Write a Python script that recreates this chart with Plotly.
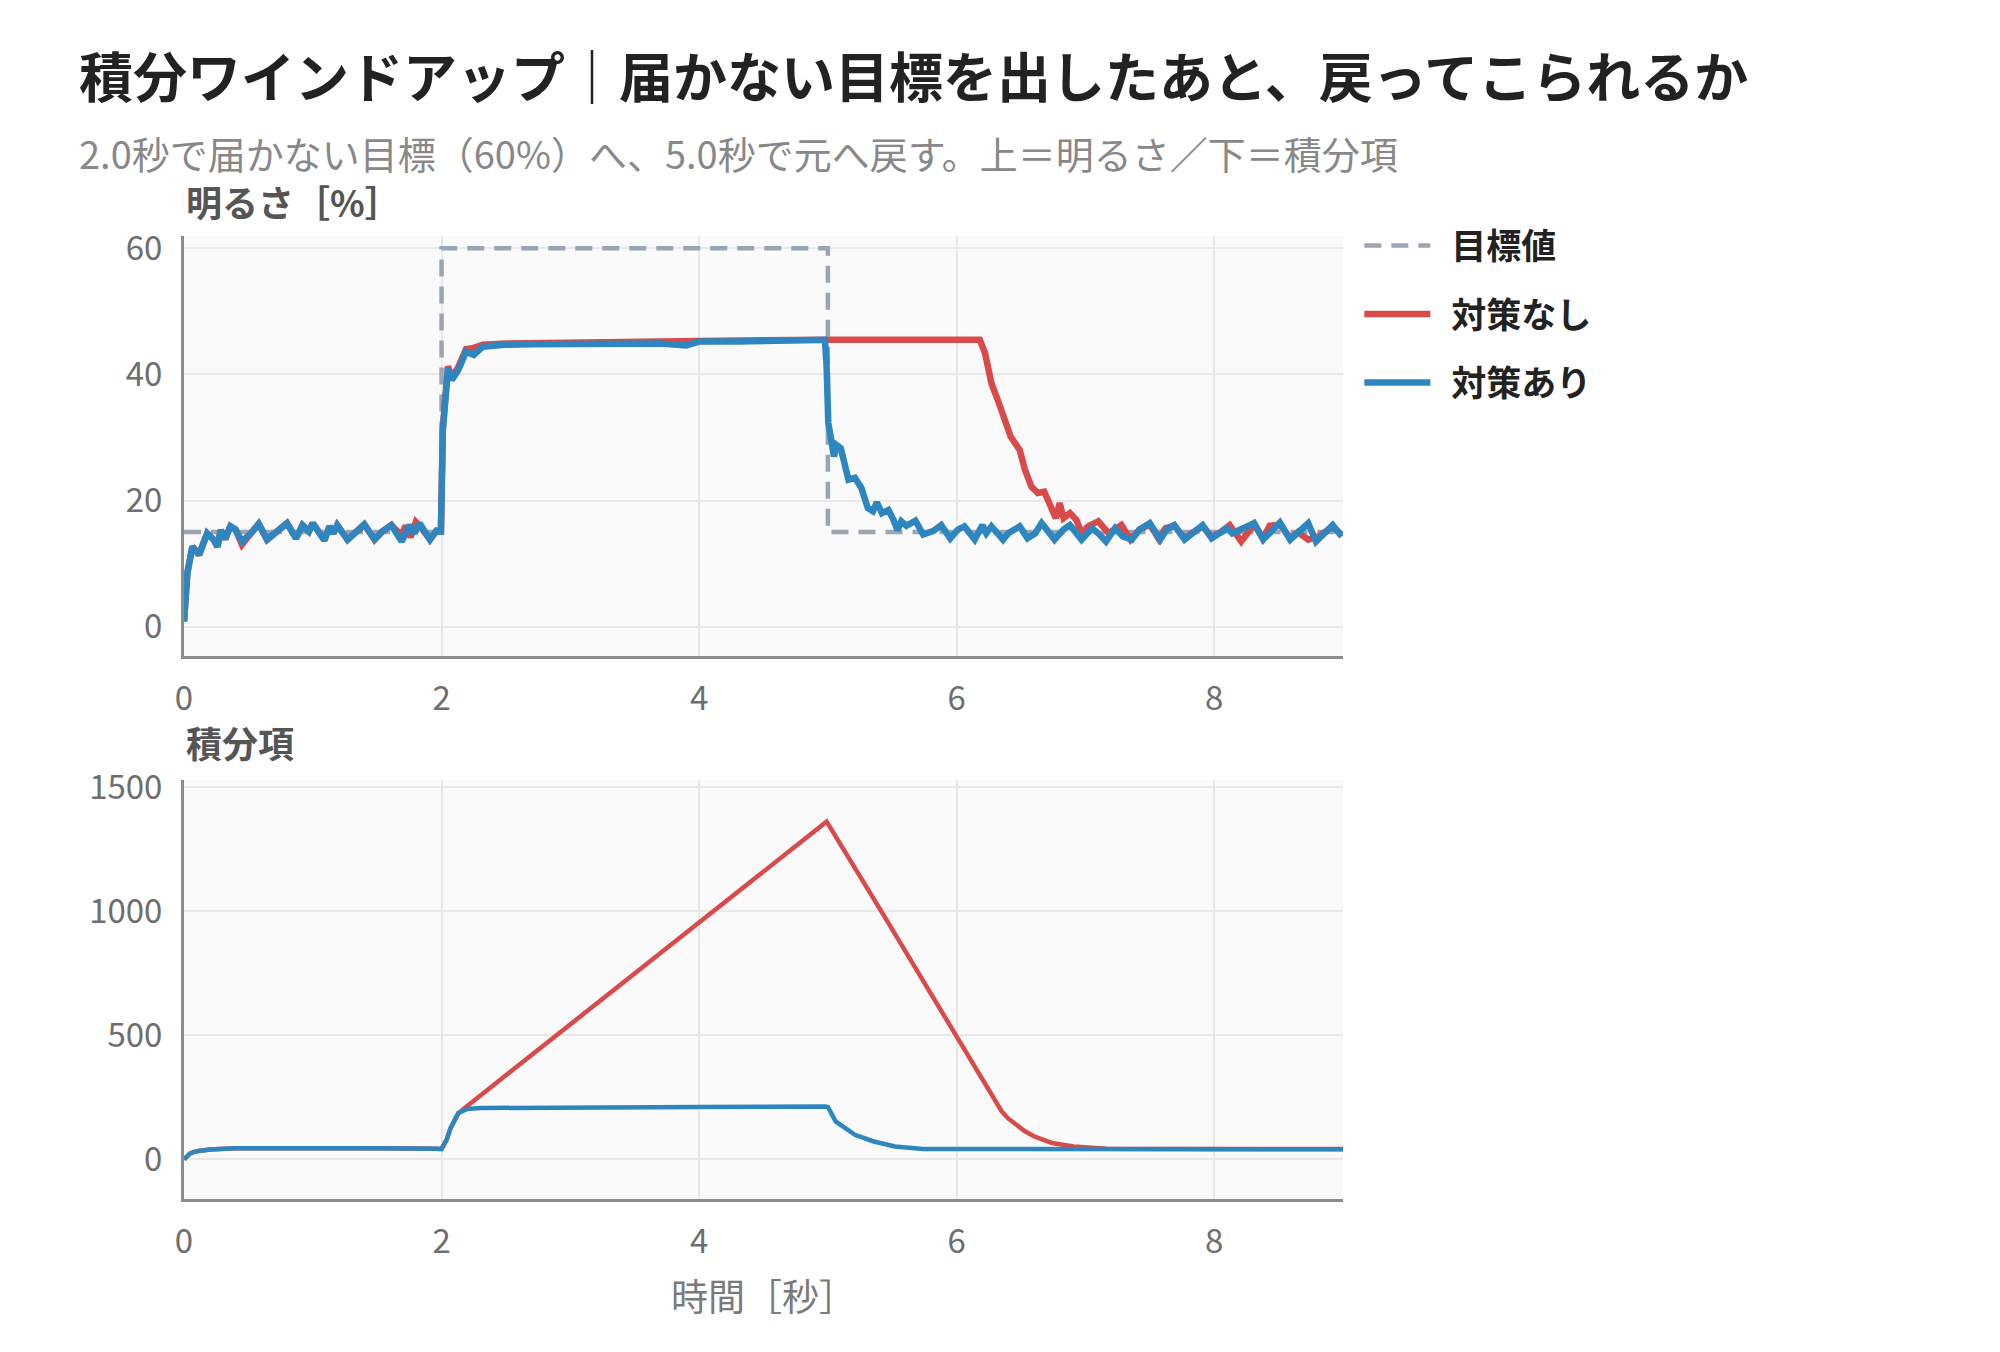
import plotly.graph_objects as go

# 目標値（明るさ％）
t_target = [0, 2, 2, 5, 5, 9]
v_target = [15, 15, 60, 60, 15, 15]

# 明るさ：対策あり
t_blue = [0.00, 0.026, 0.065, 0.117, 0.18, 0.23, 0.26, 0.285, 0.32, 0.36, 0.40, 0.45,
          0.52, 0.58, 0.645, 0.71, 0.80, 0.87, 0.92, 0.97, 1.00, 1.09, 1.13, 1.16,
          1.19, 1.27, 1.33, 1.40, 1.48, 1.54, 1.61, 1.69, 1.75, 1.79, 1.83, 1.91,
          1.96, 1.995, 2.01, 2.05, 2.08, 2.13, 2.19, 2.25, 2.32, 2.49, 2.7, 3.0,
          3.3, 3.5, 3.7, 3.9, 4.0, 4.3, 4.6, 4.977, 4.99, 5.003, 5.03, 5.047,
          5.068, 5.10, 5.16, 5.21, 5.26, 5.31, 5.35, 5.38, 5.42, 5.47, 5.51, 5.54,
          5.57, 5.61, 5.68, 5.74, 5.82, 5.88, 5.95, 6.01, 6.06, 6.14, 6.20, 6.23,
          6.27, 6.36, 6.40, 6.49, 6.55, 6.61, 6.66, 6.70, 6.76, 6.83, 6.88, 6.97,
          7.05, 7.10, 7.16, 7.23, 7.29, 7.36, 7.42, 7.50, 7.58, 7.63, 7.69, 7.77,
          7.84, 7.91, 7.98, 8.04, 8.10, 8.14, 8.21, 8.31, 8.38, 8.43, 8.51, 8.59,
          8.65, 8.73, 8.79, 8.86, 8.92, 8.99]
v_blue = [0.8, 8.5, 12.7, 11.4, 14.8, 13.8, 12.7, 15.3, 13.9, 15.9, 15.4, 13.5,
          14.8, 16.3, 13.8, 14.8, 16.4, 14.0, 16.1, 15.1, 16.4, 13.7, 15.9, 14.8,
          16.1, 13.8, 14.8, 16.2, 13.8, 15.1, 16.1, 13.5, 16.1, 14.8, 16.4, 13.8,
          15.2, 15.1, 31.2, 41.0, 39.1, 40.7, 43.6, 43.1, 44.4, 44.7, 44.8, 44.8,
          44.9, 44.7, 44.9, 44.6, 45.2, 45.2, 45.3, 45.5, 41.3, 32.3, 29.1, 27.0,
          28.8, 28.3, 23.3, 23.6, 22.0, 18.8, 18.3, 19.7, 18.0, 18.5, 16.9, 15.3,
          16.7, 16.0, 16.8, 14.6, 15.2, 16.1, 14.0, 15.4, 15.9, 13.8, 16.1, 14.8,
          15.9, 13.8, 14.8, 15.9, 14.0, 14.8, 16.4, 15.4, 13.8, 15.4, 16.1, 13.8,
          15.6, 14.8, 13.5, 15.6, 14.3, 13.8, 15.4, 16.4, 13.8, 15.4, 16.1, 13.8,
          15.1, 16.1, 14.0, 14.8, 15.6, 14.8, 15.4, 16.4, 13.8, 14.8, 16.5, 13.8,
          14.8, 16.4, 13.5, 14.8, 16.1, 14.3]

# 明るさ：対策なし
t_red = [0.00, 0.026, 0.065, 0.117, 0.18, 0.23, 0.26, 0.285, 0.32, 0.36, 0.40, 0.45,
         0.52, 0.58, 0.645, 0.71, 0.80, 0.87, 0.92, 0.97, 1.00, 1.09, 1.13, 1.16,
         1.19, 1.27, 1.33, 1.40, 1.48, 1.54, 1.61, 1.69, 1.72, 1.76, 1.80, 1.83,
         1.91, 1.96, 1.995, 2.01, 2.05, 2.08, 2.13, 2.19, 2.25, 2.32, 2.5, 3.0,
         4.0, 5.0, 6.18, 6.22, 6.27, 6.32, 6.38, 6.42, 6.49, 6.53, 6.58, 6.63,
         6.68, 6.73, 6.77, 6.80, 6.83, 6.88, 6.93, 6.97, 7.02, 7.10, 7.18, 7.28,
         7.35, 7.42, 7.50, 7.57, 7.62, 7.69, 7.77, 7.84, 7.91, 7.98, 8.05, 8.12,
         8.21, 8.31, 8.38, 8.43, 8.51, 8.59, 8.65, 8.73, 8.80, 8.86, 8.92, 8.99]
v_red = [0.8, 8.5, 12.7, 11.4, 14.8, 13.8, 12.7, 15.3, 13.9, 15.9, 15.4, 13.0,
         14.8, 16.3, 13.8, 14.8, 16.4, 14.0, 16.1, 15.1, 16.4, 13.7, 15.9, 14.8,
         16.1, 13.8, 14.8, 16.2, 13.8, 15.1, 16.1, 14.5, 16.0, 14.2, 16.6, 16.0,
         13.8, 15.2, 15.1, 31.5, 41.3, 39.5, 41.2, 44.0, 44.2, 44.7, 44.9, 45.1,
         45.3, 45.5, 45.5, 43.4, 38.6, 35.9, 32.3, 30.1, 28.0, 24.9, 22.2, 21.2,
         21.4, 18.8, 17.2, 19.6, 17.2, 18.0, 16.9, 14.8, 15.9, 16.7, 14.8, 16.1,
         13.8, 15.4, 16.2, 13.9, 15.6, 16.0, 14.0, 15.0, 15.9, 14.2, 15.0, 16.1,
         13.5, 16.2, 14.0, 16.0, 16.2, 14.0, 15.0, 13.8, 14.2, 15.0, 15.8, 14.6]

# 積分項
t_int_red = [0, 0.05, 0.1, 0.2, 0.4, 1.0, 1.5, 1.95, 2.0, 2.04, 2.07, 2.13, 2.18,
             2.5, 3.0, 4.0, 4.99, 5.44, 6.0, 6.24, 6.30, 6.35, 6.40, 6.46, 6.53,
             6.60, 6.74, 6.91, 7.16, 8.0, 9.0]
v_int_red = [0, 25, 33, 40, 45, 46, 45, 43, 42, 80, 126, 185, 207,
             339, 545, 957, 1362, 979, 496, 281, 234, 193, 165, 140, 113,
             93, 66, 52, 43, 42, 42]
t_int_blue = [0, 0.05, 0.1, 0.2, 0.4, 1.0, 1.5, 1.95, 2.0, 2.04, 2.07, 2.13, 2.2,
              2.3, 3.0, 3.95, 4.0, 4.98, 5.0, 5.06, 5.21, 5.35, 5.52, 5.74, 7.0, 9.0]
v_int_blue = [0, 25, 33, 40, 45, 46, 45, 43, 42, 80, 126, 187, 203,
              207, 207, 208, 211, 213, 211, 153, 99, 73, 52, 42, 41, 41]

RED = "#d94a4a"
BLUE = "#2e86c1"
GRAY = "#9aa5b1"
FONT = "Noto Sans CJK JP"
PAD = "\u00a0\u00a0"  # 凡例の線と文字の間を少し空ける

fig = go.Figure()
fig.add_trace(go.Scatter(x=t_target, y=v_target, mode="lines", name=PAD + "目標値",
                         line=dict(color=GRAY, width=4.5, dash="17px,10px"),
                         legendgroup="a", xaxis="x", yaxis="y"))
fig.add_trace(go.Scatter(x=t_red, y=v_red, mode="lines", name=PAD + "対策なし",
                         line=dict(color=RED, width=6.5), legendgroup="b",
                         xaxis="x", yaxis="y"))
fig.add_trace(go.Scatter(x=t_blue, y=v_blue, mode="lines", name=PAD + "対策あり",
                         line=dict(color=BLUE, width=6.5), legendgroup="c",
                         xaxis="x", yaxis="y"))
fig.add_trace(go.Scatter(x=t_int_red, y=v_int_red, mode="lines", name="対策なし",
                         line=dict(color=RED, width=4.5), legendgroup="b",
                         showlegend=False, xaxis="x2", yaxis="y2"))
fig.add_trace(go.Scatter(x=t_int_blue, y=v_int_blue, mode="lines", name="対策あり",
                         line=dict(color=BLUE, width=4.5), legendgroup="c",
                         showlegend=False, xaxis="x2", yaxis="y2"))

ax = dict(range=[0, 9], tickvals=[0, 2, 4, 6, 8], showgrid=True, gridcolor="#e8e8e8",
          gridwidth=2, showline=True, linecolor="#8c8c8c", linewidth=3, zeroline=False,
          tickfont=dict(size=33, color="#6e6e6e", family=FONT), ticklabelstandoff=11)
ay = dict(showgrid=True, gridcolor="#e8e8e8", gridwidth=2, showline=True,
          linecolor="#8c8c8c", linewidth=3, zeroline=False,
          tickfont=dict(size=33, color="#6e6e6e", family=FONT), ticklabelstandoff=12)

# 画面左上に 8px の余白が付くので、その分だけ小さく組む
fig.update_layout(
    width=1984, height=1336,
    margin=dict(l=176, r=649, t=228, b=145),
    paper_bgcolor="white", plot_bgcolor="#fafafa",
    font=dict(family=FONT, color="#222"),
    xaxis=dict(ax, domain=[0, 1], anchor="y"),
    yaxis=dict(ay, domain=[0.5639, 1], range=[-4.65, 61.95], tickvals=[0, 20, 40, 60], anchor="x"),
    xaxis2=dict(ax, domain=[0, 1], anchor="y2"),
    yaxis2=dict(ay, domain=[0, 0.4351], range=[-160, 1530], tickvals=[0, 500, 1000, 1500], anchor="x2"),
    legend=dict(x=1.0141, y=1.0205, xanchor="left", yanchor="top",
                font=dict(size=35, color="#222", family=FONT, weight="bold"),
                tracegroupgap=20, itemwidth=66, bgcolor="rgba(0,0,0,0)"),
    showlegend=True,
)

fig.add_annotation(text="<b>積分ワインドアップ｜届かない目標を出したあと、戻ってこられるか</b>",
                   xref="paper", yref="paper", x=-0.0924, y=1.1672, xanchor="left", yanchor="middle",
                   showarrow=False, font=dict(size=54, color="#222", family=FONT))
fig.add_annotation(text="2.0秒で届かない目標（60%）へ、5.0秒で元へ戻す。上＝明るさ／下＝積分項",
                   xref="paper", yref="paper", x=-0.0924, y=1.0862, xanchor="left", yanchor="middle",
                   showarrow=False, font=dict(size=38, color="#888", family=FONT))
fig.add_annotation(text="<b>明るさ［%］</b>", xref="paper", yref="paper", x=0, y=1.036,
                   xanchor="left", yanchor="middle", showarrow=False,
                   font=dict(size=36, color="#555", family=FONT))
fig.add_annotation(text="<b>積分項</b>", xref="paper", yref="paper", x=0, y=0.4746,
                   xanchor="left", yanchor="middle", showarrow=False,
                   font=dict(size=36, color="#555", family=FONT))
fig.add_annotation(text="時間［秒］", xref="paper", yref="paper", x=0.5, y=-0.0999,
                   xanchor="center", yanchor="middle", showarrow=False,
                   font=dict(size=37, color="#7a7a7a", family=FONT))

fig.write_html("out.html")
